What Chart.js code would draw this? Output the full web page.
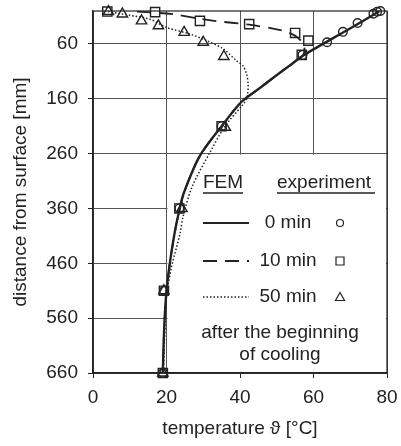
<!DOCTYPE html>
<html>
<head>
<meta charset="utf-8">
<script src="https://cdn.jsdelivr.net/npm/chart.js@4"></script>
<style>
  html, body { margin: 0; padding: 0; background: #fff; }
  #wrap { width: 401px; height: 446px; }
</style>
</head>
<body>
<div id="wrap"><canvas id="my-chart" width="401" height="446"></canvas></div>
<script>
'use strict';

// ************* Global Variables **************
let xTicks = [0, 20, 40, 60, 80];
let yTicks = [60, 160, 260, 360, 460, 560, 660];

// FEM, 0 min (solid)
let fem0Depth = [0, 20, 40, 60, 82, 100, 120, 140, 165, 210, 265, 330, 360, 405, 465, 510, 560, 610, 660];
let fem0Temp = [78, 73, 67.8, 62.6, 57, 53.4, 49.4, 45.5, 40.5, 35, 29, 24.8, 23.6, 22.2, 20.8, 20, 19.5, 19.2, 19];

// FEM, 10 min (dashed)
let fem10Depth = [1, 6, 14, 18, 25, 32, 40, 52, 66, 82, 100, 120, 140, 165, 210, 265, 330, 360, 405, 465, 510, 560, 610, 660];
let fem10Temp = [12, 22, 29, 33, 42.5, 49, 53.5, 56.3, 57.5, 57, 53.4, 49.4, 45.5, 40.5, 35, 29, 24.8, 23.6, 22.2, 20.8, 20, 19.5, 19.2, 19];

// FEM, 50 min (dotted)
let fem50Depth = [1, 5.5, 15, 30, 42, 54, 69, 91, 100, 115, 133, 150, 161, 173, 210, 258, 320, 375, 405, 466, 514, 560, 610, 660];
let fem50Temp = [4.1, 7.9, 15.5, 20, 26.4, 30.9, 35.4, 39.1, 40.8, 41.8, 42.2, 42.1, 41.8, 40.5, 35.9, 31.8, 27, 24.5, 23.7, 21.4, 20.1, 19.7, 19.4, 19.2];

// experiment
let exp0Depth = [0, 1.5, 5, 22, 38, 57, 80, 210, 360, 510, 660];
let exp0Temp = [78.2, 77.3, 76.3, 72, 68, 63.7, 57, 35, 23.5, 19.3, 19];

let exp10Depth = [1, 2, 18, 24, 40, 54, 80, 210, 360, 510, 660];
let exp10Temp = [3.9, 16.9, 29.1, 42.5, 55, 58.6, 56.8, 35, 23.5, 19.3, 19];

let exp50Depth = [1, 5.5, 18, 27, 39, 57, 83, 212, 360, 510, 660];
let exp50Temp = [4.2, 8, 13.2, 17.8, 24.8, 30, 35.6, 36, 24.2, 19.3, 19];

let ink = '#222';
let fontName = '"Liberation Sans", Arial, sans-serif';


// *************** Helper Functions **************
function toPoints(temps, depths){
  let pts = [];
  for(let i = 0; i < temps.length; i++){
    pts.push({x: temps[i], y: depths[i]});
  }
  return pts;
}

function femLine(temps, depths, width, dash){
  return {
    data: toPoints(temps, depths),
    showLine: true,
    borderColor: ink,
    borderWidth: width,
    borderDash: dash,
    tension: 0.3,
    pointRadius: 0,
    clip: false
  };
}

function expPoints(temps, depths, style, radius){
  return {
    data: toPoints(temps, depths),
    showLine: false,
    pointStyle: style,
    pointRadius: radius,
    pointBorderColor: ink,
    pointBackgroundColor: 'rgba(0,0,0,0)',
    pointBorderWidth: 1.4,
    clip: false
  };
}

function drawMarker(ctx, style, x, y){
  ctx.beginPath();
  if (style === 'circle'){
    ctx.arc(x, y, 3.5, 0, Math.PI * 2);
  } else if (style === 'rect'){
    ctx.rect(x - 4, y - 4, 8, 8);
  } else {
    ctx.moveTo(x, y - 4.5);
    ctx.lineTo(x + 4.5, y + 3.5);
    ctx.lineTo(x - 4.5, y + 3.5);
    ctx.closePath();
  }
  ctx.stroke();
}


// ***************** Plugins *********************
let legendBox = {
  id: 'legendBox',
  beforeDatasetsDraw(chart){
    let ctx = chart.ctx;
    let area = chart.chartArea;
    let x0 = chart.scales.x.getPixelForValue(20) + 1;
    let y0 = chart.scales.y.getPixelForValue(260) + 1;
    ctx.save();
    ctx.fillStyle = '#fff';
    ctx.fillRect(x0, y0, area.right - x0 - 1, area.bottom - y0 - 1);
    ctx.restore();
  },
  afterDraw(chart){
    let ctx = chart.ctx;
    let area = chart.chartArea;
    ctx.save();
    ctx.strokeStyle = ink;
    ctx.lineWidth = 1.2;
    ctx.strokeRect(area.left, area.top, area.right - area.left, area.bottom - area.top);

    ctx.fillStyle = ink;
    ctx.font = '19px ' + fontName;
    ctx.textBaseline = 'middle';
    ctx.textAlign = 'left';
    ctx.fillText('FEM', 203, 183);
    ctx.fillText('experiment', 277, 183);
    ctx.lineWidth = 1.3;
    ctx.beginPath();
    ctx.moveTo(203, 193); ctx.lineTo(243, 193);
    ctx.moveTo(277, 193); ctx.lineTo(375, 193);
    ctx.stroke();

    let rows = [
      {y: 223, label: '0 min', width: 2.2, dash: [], marker: 'circle'},
      {y: 261, label: '10 min', width: 1.8, dash: [14, 8], marker: 'rect'},
      {y: 297, label: '50 min', width: 1.4, dash: [1.5, 2], marker: 'triangle'}
    ];
    for(let i = 0; i < rows.length; i++){
      let r = rows[i];
      ctx.lineWidth = r.width;
      ctx.setLineDash(r.dash);
      ctx.beginPath();
      ctx.moveTo(203, r.y);
      ctx.lineTo(249, r.y);
      ctx.stroke();
      ctx.setLineDash([]);
      ctx.textAlign = 'center';
      ctx.fillText(r.label, 288, r.y);
      ctx.lineWidth = 1.2;
      drawMarker(ctx, r.marker, 340, r.y);
    }

    ctx.textAlign = 'center';
    ctx.fillText('after the beginning', 280, 333);
    ctx.fillText('of cooling', 280, 355);
    ctx.restore();
  }
};


// ***************** Chart *********************
let canvasElem = document.getElementById('my-chart');

let myObj = {
  type: 'scatter',
  data: {
    datasets: [
      femLine(fem0Temp, fem0Depth, 2.4, []),
      femLine(fem10Temp, fem10Depth, 1.8, [14, 8]),
      femLine(fem50Temp, fem50Depth, 1.5, [1.5, 2]),
      expPoints(exp0Temp, exp0Depth, 'circle', 4.3),
      expPoints(exp10Temp, exp10Depth, 'rect', 6.5),
      expPoints(exp50Temp, exp50Depth, 'triangle', 6)
    ]
  },
  options: {
    responsive: false,
    animation: false,
    devicePixelRatio: 1,
    layout: {
      padding: {top: 11, right: 14, left: 0, bottom: 0}
    },
    plugins: {
      legend: {display: false},
      tooltip: {enabled: false}
    },
    scales: {
      x: {
        type: 'linear',
        min: 0,
        max: 80,
        afterBuildTicks(s){
          s.ticks = xTicks.map(v => ({value: v}));
        },
        afterFit(s){
          s.height = 73;
          s.paddingLeft = 0;
          s.paddingRight = 0;
        },
        grid: {color: '#555', lineWidth: 1, tickLength: 5, tickColor: ink},
        border: {color: ink, width: 1.2},
        ticks: {color: ink, font: {family: fontName, size: 19}, padding: 8, maxRotation: 0},
        title: {
          display: true,
          text: 'temperature \u03D1 [\u00B0C]',
          color: ink,
          font: {family: fontName, size: 19},
          padding: {top: 0, bottom: 6}
        }
      },
      y: {
        type: 'linear',
        min: 0,
        max: 660,
        reverse: true,
        afterBuildTicks(s){
          s.ticks = yTicks.map(v => ({value: v}));
        },
        afterFit(s){
          s.width = 93;
          s.paddingTop = 0;
          s.paddingBottom = 0;
        },
        grid: {color: '#555', lineWidth: 1, tickLength: 5, tickColor: ink},
        border: {color: ink, width: 1.2},
        ticks: {color: ink, font: {family: fontName, size: 19}, padding: 10},
        title: {
          display: true,
          text: 'distance from surface [mm]',
          color: ink,
          font: {family: fontName, size: 19},
          padding: {top: 9, bottom: 0}
        }
      }
    }
  },
  plugins: [legendBox]
};

new Chart(canvasElem, myObj);
</script>
</body>
</html>
